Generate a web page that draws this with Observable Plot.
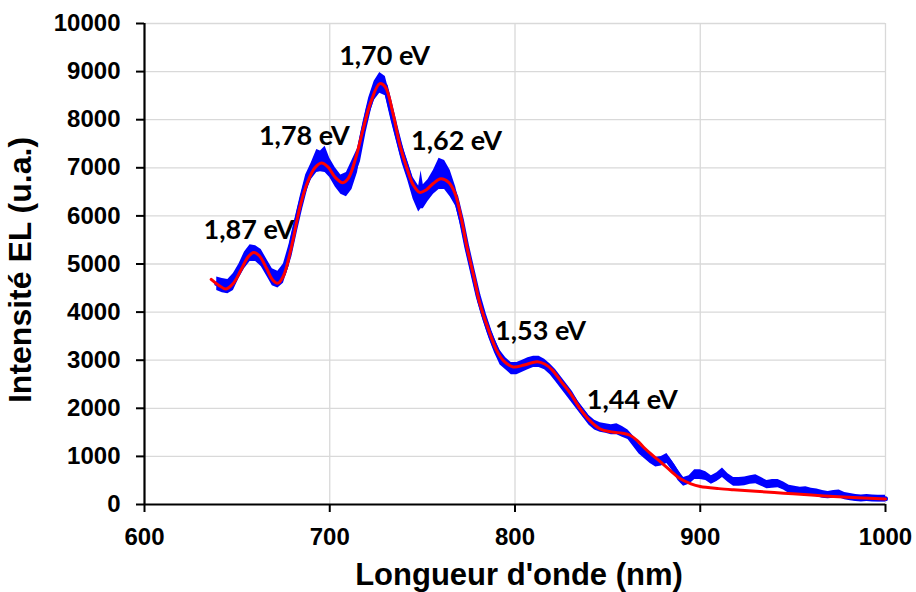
<!DOCTYPE html>
<html>
<head>
<meta charset="utf-8">
<script src="https://cdn.jsdelivr.net/npm/d3@7"></script>
<script src="https://cdn.jsdelivr.net/npm/@observablehq/plot@0.6"></script>
<style>
  html, body { margin: 0; padding: 0; background: #fff; }
  #chart svg { display: block; }
</style>
</head>
<body>
<div id="chart"></div>
<script>
// ---- data ----
const xTicks = [600, 700, 800, 900, 1000];
const yTicks = [0, 1000, 2000, 3000, 4000, 5000, 6000, 7000, 8000, 9000, 10000];

// fitted curve (red)
const redNm = [636, 640, 644, 648, 652, 656, 659, 662, 666, 669, 672, 675, 679, 684, 688, 692, 695.5, 699, 703, 707, 710, 714, 718, 722, 727, 730, 734, 738, 742, 745, 748.5, 752, 756, 760, 764, 767.5, 771, 774, 778, 781, 786, 790, 794, 799, 805, 812, 816, 820, 825, 830, 835, 840, 846, 852, 858, 862, 866, 870, 874, 879, 884, 889, 895, 900, 910, 918, 930, 945, 960, 972, 985, 1000];
const redI = [4680, 4560, 4480, 4600, 4870, 5150, 5240, 5170, 4900, 4680, 4600, 4750, 5300, 6200, 6700, 7000, 7100, 7020, 6800, 6690, 6780, 7200, 7800, 8350, 8750, 8680, 8150, 7450, 6950, 6650, 6490, 6540, 6680, 6770, 6700, 6480, 5950, 5360, 4700, 4180, 3600, 3210, 2980, 2860, 2900, 2970, 2920, 2800, 2550, 2305, 2000, 1760, 1570, 1510, 1480, 1440, 1330, 1170, 1030, 870, 700, 540, 430, 375, 330, 305, 275, 235, 195, 165, 140, 115];

// measured spectrum (blue), noise envelope
const blueNm = [639, 642, 645, 648, 651, 654, 657, 660, 663, 666, 669, 672, 675, 678, 681, 684, 687, 690, 693, 695, 697.5, 700, 703, 706, 709, 712, 715, 718, 721, 724, 727, 730, 733, 736, 739, 742, 745, 748, 749.3, 750.5, 753, 756, 759, 762, 765, 768, 771, 774, 777, 780, 783, 786, 789, 792, 795, 798, 801, 804, 807, 810, 813, 816, 819, 822, 825, 828, 831, 834, 837, 840, 843, 846, 849, 852, 855, 858, 861, 864, 867, 870, 873, 876, 879, 882, 885, 888, 891, 894, 897, 900, 903, 906, 909, 912, 915, 918, 921, 924, 927, 930, 933, 936, 939, 942, 945, 948, 951, 954, 957, 960, 963, 966, 969, 972, 975, 978, 981, 984, 987, 990, 993, 996, 1000];
const blueLo = [4450, 4400, 4380, 4450, 4700, 4900, 5050, 5050, 4950, 4750, 4550, 4500, 4600, 4950, 5500, 6000, 6450, 6750, 6900, 6920, 6900, 6800, 6600, 6450, 6400, 6550, 6900, 7550, 8050, 8400, 8550, 8500, 8000, 7550, 7100, 6750, 6350, 6080, 6150, 6150, 6300, 6450, 6550, 6550, 6400, 6200, 5750, 5200, 4700, 4200, 3800, 3450, 3150, 2900, 2800, 2700, 2700, 2750, 2800, 2850, 2850, 2800, 2700, 2550, 2400, 2250, 2100, 1950, 1800, 1650, 1550, 1500, 1480, 1450, 1450, 1400, 1350, 1200, 1050, 950, 850, 780, 800, 850, 700, 500, 380, 420, 520, 520, 500, 420, 480, 560, 460, 380, 380, 390, 420, 430, 380, 330, 340, 350, 300, 230, 220, 200, 210, 190, 160, 130, 120, 130, 140, 100, 80, 60, 50, 60, 50, 50, 50];
const blueHi = [4730, 4700, 4680, 4800, 5000, 5250, 5400, 5380, 5300, 5100, 4900, 4850, 5000, 5400, 5900, 6400, 6850, 7100, 7380, 7350, 7450, 7200, 7000, 6850, 6900, 7150, 7400, 7950, 8450, 8800, 8980, 8900, 8450, 7950, 7500, 7150, 6800, 6620, 6940, 6650, 6750, 6950, 7200, 7150, 6950, 6600, 6100, 5500, 5000, 4500, 4100, 3750, 3450, 3200, 3050, 2950, 2950, 3000, 3050, 3080, 3080, 3020, 2920, 2800, 2650, 2500, 2350, 2150, 2000, 1850, 1750, 1700, 1680, 1660, 1680, 1620, 1550, 1420, 1250, 1150, 1050, 980, 1000, 1060, 900, 720, 560, 600, 720, 720, 680, 600, 660, 760, 640, 560, 560, 570, 600, 620, 560, 500, 520, 520, 470, 400, 380, 360, 370, 340, 320, 290, 270, 290, 300, 250, 230, 210, 200, 210, 200, 190, 190];

// peak annotations
const peakLabels = ["1,87 eV", "1,78 eV", "1,70 eV", "1,62 eV", "1,53 eV", "1,44 eV"];
const peakNm = [656.4, 686.3, 729.6, 768.4, 813.8, 863.3];
const peakI = [5530, 7464, 9141, 7360, 3424, 1990];

// ---- build tables ----
const red = redNm.map((x, i) => ({x, y: redI[i]}));
const blue = blueNm.map((x, i) => ({x, lo: blueLo[i], hi: blueHi[i], mid: (blueLo[i] + blueHi[i]) / 2}));
const peaks = peakLabels.map((t, i) => ({t, x: peakNm[i], y: peakI[i]}));

const axisFont = "'Liberation Sans', Arial, sans-serif";

const chart = Plot.plot({
  width: 916,
  height: 592,
  marginLeft: 144,
  marginRight: 31,
  marginTop: 23,
  marginBottom: 88,
  style: {fontFamily: axisFont, background: "#fff", color: "#000", overflow: "visible"},
  x: {domain: [600, 1000]},
  y: {domain: [0, 10000]},
  marks: [
    Plot.gridY(yTicks.filter(d => d > 0), {stroke: "#d9d9d9", strokeOpacity: 1, strokeWidth: 1.3}),
    Plot.gridX(xTicks.filter(d => d > 600), {stroke: "#d9d9d9", strokeOpacity: 1, strokeWidth: 1.3}),
    Plot.areaY(blue, {x: "x", y1: "lo", y2: "hi", fill: "#0000ff", curve: "linear"}),
    Plot.line(blue, {x: "x", y: "mid", stroke: "#0000ff", strokeWidth: 5}),
    Plot.line(red, {x: "x", y: "y", stroke: "#ff0000", strokeWidth: 3, curve: "catmull-rom"}),
    Plot.ruleX([600], {stroke: "#000", strokeWidth: 2.2}),
    Plot.ruleY([0], {stroke: "#000", strokeWidth: 2.2}),
    Plot.axisY({ticks: yTicks, tickSize: 8, tickPadding: 16, tickFormat: d => String(d), label: null,
      stroke: "#000", strokeWidth: 2, fontSize: 24, fontWeight: "bold", fontFamily: axisFont}),
    Plot.axisX({ticks: xTicks, tickSize: 8, tickPadding: 15, tickFormat: d => String(d), label: null,
      stroke: "#000", strokeWidth: 2, fontSize: 24, fontWeight: "bold", fontFamily: axisFont}),
    Plot.text(["Longueur d'onde (nm)"], {frameAnchor: "bottom", dx: 4, dy: 80, lineAnchor: "bottom",
      fontSize: 31, fontWeight: "bold", fontFamily: axisFont, fill: "#000"}),
    Plot.text(["Intensité EL (u.a.)"], {frameAnchor: "left", dx: -114, dy: 6, rotate: -90, lineAnchor: "bottom",
      textAnchor: "middle", fontSize: 32, fontWeight: "bold", fontFamily: axisFont, fill: "#000"}),
    Plot.text(peaks, {x: "x", y: "y", text: "t", lineAnchor: "bottom", textAnchor: "middle",
      fontSize: 27, fontWeight: "bold", fontFamily: "Lato, 'Open Sans', sans-serif", fill: "#000"})
  ]
});

document.getElementById("chart").appendChild(chart);
</script>
</body>
</html>
